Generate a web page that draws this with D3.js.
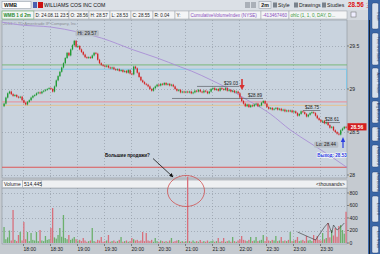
<!DOCTYPE html>
<html>
<head>
<meta charset="utf-8">
<script src="https://cdn.jsdelivr.net/npm/d3@7"></script>
<style>
body { margin: 0; background: #c3c8ce; }
svg { display: block; font-family: "Liberation Sans", Arial, sans-serif; }
</style>
</head>
<body>
<div id="chart"></div>
<script>
// 2-minute bars, WMB, 24.08.11 from 17:38 to 23:58
const closes = [28.83,28.90,28.95,28.97,28.94,28.92,28.93,28.91,28.90,28.91,
 28.87,28.84,28.82,28.85,28.87,28.90,28.92,28.93,28.95,28.96,
 28.95,28.97,28.98,28.99,29.00,29.01,29.00,28.97,29.03,29.10,
 29.15,29.20,29.25,29.30,29.36,29.42,29.39,29.46,29.51,29.56,
 29.49,29.50,29.46,29.43,29.40,29.37,29.36,29.37,29.36,29.39,
 29.42,29.41,29.34,29.30,29.28,29.27,29.26,29.27,29.25,29.24,
 29.25,29.23,29.22,29.23,29.21,29.22,29.20,29.21,29.19,29.22,
 29.18,29.17,29.26,29.24,29.19,29.14,29.10,29.08,29.06,29.05,
 29.03,29.00,28.98,29.01,29.03,29.05,29.04,29.06,29.05,29.07,
 29.05,29.06,29.04,29.05,29.03,29.00,28.98,28.99,28.96,28.97,
 28.96,28.97,28.96,28.97,28.95,28.96,28.98,28.97,28.99,28.97,
 28.96,28.98,28.97,28.95,28.97,29.00,29.01,28.99,29.00,28.98,
 29.01,29.00,28.99,29.01,28.98,28.99,28.97,28.98,28.96,28.97,
 28.95,28.90,28.86,28.83,28.80,28.82,28.79,28.81,28.80,28.82,
 28.83,28.80,28.81,28.84,28.86,28.83,28.79,28.77,28.78,28.76,
 28.77,28.78,28.76,28.77,28.75,28.76,28.74,28.75,28.74,28.75,
 28.73,28.74,28.72,28.69,28.71,28.74,28.73,28.71,28.68,28.70,
 28.72,28.73,28.72,28.69,28.66,28.64,28.62,28.63,28.60,28.61,
 28.58,28.55,28.56,28.52,28.50,28.48,28.47,28.52,28.54,28.56,
 28.55];
const opens = [28.80,28.83,28.90,28.95,28.97,28.94,28.92,28.93,28.91,28.90,
 28.91,28.87,28.84,28.82,28.85,28.87,28.90,28.92,28.93,28.95,
 28.96,28.95,28.97,28.98,28.99,29.00,29.01,29.00,28.97,29.03,
 29.10,29.15,29.20,29.25,29.30,29.36,29.42,29.39,29.46,29.51,
 29.56,29.49,29.50,29.46,29.43,29.40,29.37,29.36,29.37,29.36,
 29.39,29.42,29.41,29.34,29.30,29.28,29.27,29.26,29.27,29.25,
 29.24,29.25,29.23,29.22,29.23,29.21,29.22,29.20,29.21,29.19,
 29.22,29.18,29.17,29.26,29.24,29.19,29.14,29.10,29.08,29.06,
 29.05,29.03,29.00,28.98,29.01,29.03,29.05,29.04,29.06,29.05,
 29.07,29.05,29.06,29.04,29.05,29.03,29.00,28.98,28.99,28.96,
 28.97,28.96,28.97,28.96,28.97,28.95,28.96,28.98,28.97,28.99,
 28.97,28.96,28.98,28.97,28.95,28.97,29.00,29.01,28.99,29.00,
 28.98,29.01,29.00,28.99,29.01,28.98,28.99,28.97,28.98,28.96,
 28.97,28.95,28.90,28.86,28.83,28.80,28.82,28.79,28.81,28.80,
 28.82,28.83,28.80,28.81,28.84,28.86,28.83,28.79,28.77,28.78,
 28.76,28.77,28.78,28.76,28.77,28.75,28.76,28.74,28.75,28.74,
 28.75,28.73,28.74,28.72,28.69,28.71,28.74,28.73,28.71,28.68,
 28.70,28.72,28.73,28.72,28.69,28.66,28.64,28.62,28.63,28.60,
 28.61,28.58,28.55,28.56,28.52,28.50,28.48,28.47,28.52,28.54,
 28.56];
// volume, thousands
const volumes = [256,60,90,200,40,528,50,30,128,176,
 40,336,60,176,30,160,50,40,176,30,
 208,40,30,112,50,60,240,560,90,70,
 128,240,100,448,80,60,128,50,70,96,
 60,40,50,30,80,40,20,30,40,240,
 30,20,50,40,96,20,30,40,128,20,
 30,40,20,30,50,96,20,30,40,20,
 30,80,60,40,50,30,40,176,30,160,
 40,30,50,20,80,30,20,40,30,20,
 30,20,40,80,20,30,40,48,20,30,
 20,30,1060,30,20,40,20,30,20,48,
 20,30,20,40,20,30,40,20,30,80,
 20,30,80,20,30,40,20,96,30,20,
 40,60,112,50,40,30,50,96,30,40,
 96,30,40,50,128,30,96,40,30,50,
 40,112,30,40,96,30,40,30,50,176,
 30,40,50,96,30,40,50,30,112,40,
 50,30,128,60,112,50,40,160,60,80,
 320,90,208,120,240,100,272,288,208,150,
 500];

// CumulativeVolumeIndex (NYSE), millions, sampled at bar indexes
const cviIdx = [-2,9,26,41,54,72,85,98,104,115,126,135,143,148,159,170,182,191];
const cviVals = [-403.73,-403.93,-404.07,-404.40,-404.80,-405.60,-406.13,-406.73,-407.00,
 -407.60,-408.27,-408.93,-409.47,-409.87,-410.93,-411.80,-412.73,-413.47];

// black study line in the volume pane
const studyIdx = [163,173,178,180,182,183,185,187,189];
const studyVals = [176,48,256,320,160,288,208,256,320];

const levelPrices = [29.28, 29.23, 28.85, 28.81, 28.09];
const priceTicks = [28, 28.5, 29, 29.5];
const priceTickLabels = ['28', '28.5', '29', '29.5'];
const volTicks = [0, 200, 400, 600, 800];
const timeTicks = ['18:00','18:30','19:00','19:30','20:00','20:30','21:00','21:30','22:00','22:30','23:00','23:30'];

const W = 380, H = 254;
const plotL = 2, plotR = 347;
const priceTop = 20, priceBot = 178;
const volTop = 188, volBot = 244;

const svg = d3.select('#chart').append('svg')
    .attr('width', W).attr('height', H);

const day = new Date(2011, 7, 24);
const t0 = d3.timeMinute.offset(day, 17 * 60 + 38);
const barTime = i => d3.timeMinute.offset(t0, 2 * i + 1);
const parseT = d3.timeParse('%H:%M');
const tickDate = s => { const p = parseT(s); return new Date(2011, 7, 24, p.getHours(), p.getMinutes()); };

const x = d3.scaleTime()
    .domain([new Date(2011, 7, 24, 17, 35), new Date(2011, 7, 25, 0, 0)])
    .range([0.5, 347]);
const y = d3.scaleLinear().domain([28, 29.5]).range([175, 46]);
const yv = d3.scaleLinear().domain([0, 800]).range([243, 193]);
const yc = d3.scaleLinear().domain([-413.6, -403.6]).range([170, 20]);

// ---------- backgrounds ----------
svg.append('rect').attr('width', W).attr('height', H).attr('fill', '#c5cad0');
svg.append('rect').attr('x', 0).attr('y', 0).attr('width', W).attr('height', 10).attr('fill', '#dbe0e6');
svg.append('rect').attr('x', 0).attr('y', 10).attr('width', 368).attr('height', 10).attr('fill', '#d3d8de');
svg.append('rect').attr('x', plotL).attr('y', priceTop).attr('width', plotR - plotL).attr('height', priceBot - priceTop)
    .attr('fill', '#c9d3de').attr('stroke', '#8d949c').attr('stroke-width', 0.6);
svg.append('rect').attr('x', plotL).attr('y', volTop).attr('width', plotR - plotL).attr('height', volBot - volTop)
    .attr('fill', '#c9d3de').attr('stroke', '#8d949c').attr('stroke-width', 0.6);

// volume header bar
svg.append('rect').attr('x', plotL).attr('y', 180).attr('width', plotR - plotL).attr('height', 8)
    .attr('fill', '#eef0f2').attr('stroke', '#9aa0a8').attr('stroke-width', 0.6);
svg.append('rect').attr('x', plotL + 0.5).attr('y', 180.5).attr('width', 20).attr('height', 7)
    .attr('fill', '#f6f7f8').attr('stroke', '#9aa0a8').attr('stroke-width', 0.5);
svg.append('rect').attr('x', 22.5).attr('y', 180.5).attr('width', 19).attr('height', 7)
    .attr('fill', '#f6f7f8').attr('stroke', '#9aa0a8').attr('stroke-width', 0.5);
svg.append('text').attr('x', 4).attr('y', 186.3).attr('font-size', 5).attr('fill', '#222').text('Volume');
svg.append('text').attr('x', 24).attr('y', 186.3).attr('font-size', 5).attr('fill', '#222').text('514,445');
svg.append('text').attr('x', 345).attr('y', 186.3).attr('font-size', 5).attr('fill', '#222')
    .attr('text-anchor', 'end').text('<thousands>');

// ---------- grid ----------
const grid = svg.append('g').attr('stroke', '#8c949e').attr('stroke-width', 0.6).attr('stroke-dasharray', '1,2');
timeTicks.forEach(s => {
    const xx = Math.round(x(tickDate(s))) + 0.5;
    grid.append('line').attr('x1', xx).attr('x2', xx).attr('y1', priceTop).attr('y2', priceBot);
    grid.append('line').attr('x1', xx).attr('x2', xx).attr('y1', volTop).attr('y2', volBot);
});
priceTicks.forEach(p => {
    grid.append('line').attr('x1', plotL).attr('x2', plotR).attr('y1', Math.round(y(p)) + 0.5).attr('y2', Math.round(y(p)) + 0.5);
});
volTicks.slice(1).forEach(v => {
    grid.append('line').attr('x1', plotL).attr('x2', plotR).attr('y1', Math.round(yv(v)) + 0.5).attr('y2', Math.round(yv(v)) + 0.5);
});

svg.append('text').attr('x', 3).attr('y', 24.5).attr('font-size', 4.2).attr('fill', '#8a8f96')
    .text('2013 \u00a9 TD Ameritrade IP Company, Inc.');

// ---------- level lines ----------
const levelColors = ['#6fb56f', '#7cc6e8', '#e29aa4', '#e8c088', '#e04848'];
const levelWidths = [0.9, 0.9, 1.4, 0.9, 0.9];
levelPrices.forEach((p, i) => {
    svg.append('line').attr('x1', plotL).attr('x2', plotR).attr('y1', y(p)).attr('y2', y(p))
        .attr('stroke', levelColors[i]).attr('stroke-width', levelWidths[i]);
});
svg.append('line').attr('x1', plotR - 0.5).attr('x2', plotR - 0.5).attr('y1', y(29.23)).attr('y2', y(29))
    .attr('stroke', '#7cc6e8').attr('stroke-width', 0.9);

// ---------- price clip ----------
svg.append('clipPath').attr('id', 'pclip').append('rect')
    .attr('x', plotL).attr('y', priceTop).attr('width', plotR - plotL).attr('height', priceBot - priceTop);
const pg = svg.append('g').attr('clip-path', 'url(#pclip)');

// CVI curve
const cviLine = d3.line()
    .x((d, i) => x(barTime(cviIdx[i])))
    .y(d => yc(d))
    .curve(d3.curveMonotoneX);
pg.append('path').datum(cviVals).attr('d', cviLine)
    .attr('fill', 'none').attr('stroke', '#a98fd6').attr('stroke-width', 0.9);

// horizontal price-level marks
const marks = [
    {p: 29.03, x1: 197, x2: 239, label: '$29.03'},
    {p: 28.89, x1: 172, x2: 263, label: '$28.89'},
    {p: 28.75, x1: 303, x2: 320, label: '$28.75'},
    {p: 28.61, x1: 322, x2: 340, label: '$28.61'}
];
marks.forEach(m => {
    pg.append('line').attr('x1', m.x1).attr('x2', m.x2).attr('y1', y(m.p)).attr('y2', y(m.p))
        .attr('stroke', '#5a5f66').attr('stroke-width', 0.7);
    pg.append('text').attr('x', m.x2 - 1).attr('y', y(m.p) - 1.5).attr('font-size', 4.6)
        .attr('text-anchor', 'end').attr('fill', '#222').text(m.label);
});

// candles
const bw = 1.3;
closes.forEach((c, i) => {
    const o = opens[i];
    const cx = x(barTime(i));
    const up = c >= o;
    const col = up ? '#1e9a32' : '#d42424';
    const top = y(Math.max(o, c)), bot = y(Math.min(o, c));
    pg.append('line').attr('x1', cx).attr('x2', cx)
        .attr('y1', top - 0.9).attr('y2', bot + 0.9).attr('stroke', col).attr('stroke-width', 0.5);
    pg.append('rect').attr('x', cx - bw / 2).attr('y', top).attr('width', bw)
        .attr('height', Math.max(0.7, bot - top)).attr('fill', col);
});

// Hi / Lo bubbles
function bubble(g, cx, cy, txt) {
    const t = g.append('text').attr('x', cx).attr('y', cy + 1.7).attr('font-size', 4.8)
        .attr('text-anchor', 'middle').attr('fill', '#222').text(txt);
    const bb = t.node().getBBox();
    g.insert('rect', 'text').attr('x', bb.x - 2).attr('y', bb.y - 0.6).attr('width', bb.width + 4)
        .attr('height', bb.height + 1.2).attr('rx', 1.5).attr('fill', '#b7bec7');
}
const hiG = pg.append('g'); bubble(hiG, 87, 33, 'Hi: 29.57');
const loG = pg.append('g'); bubble(loG, 326, 144.5, 'Lo: 28.44');

// red arrow down
pg.append('line').attr('x1', 242).attr('x2', 242).attr('y1', 79).attr('y2', 86)
    .attr('stroke', '#d83030').attr('stroke-width', 1.6);
pg.append('path').attr('d', 'M239.3,85 L244.7,85 L242,90 Z').attr('fill', '#d83030');
// blue arrow up
pg.append('line').attr('x1', 343).attr('x2', 343).attr('y1', 148).attr('y2', 141)
    .attr('stroke', '#2a3ee0').attr('stroke-width', 1.2);
pg.append('path').attr('d', 'M340.8,142 L345.2,142 L343,137 Z').attr('fill', '#2a3ee0');
pg.append('text').attr('x', 332).attr('y', 156.5).attr('font-size', 4.6).attr('font-weight', 'bold')
    .attr('text-anchor', 'middle').attr('fill', '#2233dd')
    .attr('stroke', '#ffffff').attr('stroke-width', 1.2).attr('paint-order', 'stroke')
    .text('Выход: 28.53');

// annotation
svg.append('defs').append('marker').attr('id', 'ah').attr('viewBox', '0 0 10 10')
    .attr('refX', 9).attr('refY', 5).attr('markerWidth', 5).attr('markerHeight', 5).attr('orient', 'auto')
    .append('path').attr('d', 'M0,0 L10,5 L0,10 Z').attr('fill', '#111');
svg.append('text').attr('x', 105).attr('y', 156.8).attr('font-size', 4.6).attr('font-weight', 'bold')
    .attr('fill', '#111').attr('stroke', '#c9d3de').attr('stroke-width', 0.8).attr('paint-order', 'stroke')
    .text('Большие продажи?');
svg.append('line').attr('x1', 153).attr('y1', 158.5).attr('x2', 173).attr('y2', 177)
    .attr('stroke', '#111').attr('stroke-width', 0.8).attr('marker-end', 'url(#ah)');

// ---------- volume ----------
svg.append('clipPath').attr('id', 'vclip').append('rect')
    .attr('x', plotL).attr('y', 170).attr('width', plotR - plotL).attr('height', volBot - 170);
const vg = svg.append('g').attr('clip-path', 'url(#vclip)');
volumes.forEach((v, i) => {
    const up = closes[i] >= opens[i];
    vg.append('rect').attr('x', x(barTime(i)) - 0.7).attr('y', yv(v)).attr('width', 1.3)
        .attr('height', yv(0) - yv(v)).attr('fill', up ? '#6cb06c' : '#d8707c');
});
const studyLine = d3.line().x((d, i) => x(barTime(studyIdx[i]))).y(d => yv(d));
vg.append('path').datum(studyVals).attr('d', studyLine).attr('fill', 'none')
    .attr('stroke', '#333').attr('stroke-width', 0.6);

// red ellipse
svg.append('ellipse').attr('cx', 186).attr('cy', 191).attr('rx', 18.5).attr('ry', 15.5)
    .attr('fill', 'none').attr('stroke', '#d05050').attr('stroke-width', 0.8);

// ---------- axes ----------
const axisFont = 5;
const pAxis = svg.append('g');
priceTicks.forEach((p, i) => {
    pAxis.append('line').attr('x1', plotR).attr('x2', plotR + 2).attr('y1', y(p)).attr('y2', y(p)).attr('stroke', '#333').attr('stroke-width', 0.5);
    pAxis.append('text').attr('x', plotR + 2.5).attr('y', y(p) + 1.8).attr('font-size', axisFont).attr('fill', '#222').text(priceTickLabels[i]);
});
// last price tag
const last = 28.56;
pAxis.append('rect').attr('x', plotR + 0.5).attr('y', y(last) - 3.6).attr('width', 19).attr('height', 7.2).attr('fill', '#d41e1e');
pAxis.append('text').attr('x', plotR + 10).attr('y', y(last) + 1.9).attr('font-size', 5).attr('font-weight', 'bold')
    .attr('text-anchor', 'middle').attr('fill', '#fff').text('28.56');

volTicks.forEach(v => {
    pAxis.append('line').attr('x1', plotR).attr('x2', plotR + 2).attr('y1', yv(v)).attr('y2', yv(v)).attr('stroke', '#333').attr('stroke-width', 0.5);
    pAxis.append('text').attr('x', plotR + 2.5).attr('y', yv(v) + 1.8).attr('font-size', axisFont).attr('fill', '#222').text(v);
});
timeTicks.forEach(s => {
    const xx = Math.round(x(tickDate(s))) + 0.5;
    pAxis.append('line').attr('x1', xx).attr('x2', xx).attr('y1', volBot).attr('y2', volBot + 2).attr('stroke', '#333').attr('stroke-width', 0.5);
    pAxis.append('text').attr('x', xx).attr('y', 250.5).attr('font-size', axisFont).attr('fill', '#222').text(s);
});

// ---------- top toolbar ----------
const tb = svg.append('g').attr('font-size', 5.2);
tb.append('rect').attr('x', 2).attr('y', 1.5).attr('width', 29).attr('height', 7).attr('fill', '#fff').attr('stroke', '#8a94a0').attr('stroke-width', 0.5);
tb.append('text').attr('x', 4).attr('y', 7).attr('font-weight', 'bold').attr('fill', '#111').text('WMB');
tb.append('rect').attr('x', 33).attr('y', 2).attr('width', 4).attr('height', 6).attr('fill', '#4a5fb0');
tb.append('rect').attr('x', 38).attr('y', 2).attr('width', 5).attr('height', 6).attr('fill', '#cc1111');
tb.append('text').attr('x', 44).attr('y', 7).attr('fill', '#111').text('WILLIAMS COS INC COM');
tb.append('rect').attr('x', 245).attr('y', 2).attr('width', 5).attr('height', 6).attr('fill', '#aab0b8');
tb.append('rect').attr('x', 251).attr('y', 2).attr('width', 5).attr('height', 6).attr('fill', '#aab0b8');
tb.append('rect').attr('x', 259).attr('y', 1.5).attr('width', 12).attr('height', 7).attr('fill', '#eef0f2').attr('stroke', '#8a94a0').attr('stroke-width', 0.5);
tb.append('text').attr('x', 265).attr('y', 7).attr('text-anchor', 'middle').attr('font-weight', 'bold').attr('fill', '#111').text('2m');
[['Style', 273], ['Drawings', 294], ['Studies', 322]].forEach(d => {
    tb.append('rect').attr('x', d[1]).attr('y', 2.5).attr('width', 4).attr('height', 5).attr('fill', '#7a828c');
    tb.append('text').attr('x', d[1] + 5).attr('y', 7).attr('fill', '#222').text(d[0]);
});
tb.append('text').attr('x', 348).attr('y', 7.3).attr('font-size', 6.3).attr('font-weight', 'bold').attr('fill', '#d11').text('28.56');
tb.append('text').attr('x', 366).attr('y', 4).attr('font-size', 3.3).attr('fill', '#d11').text('-.62');
tb.append('text').attr('x', 366).attr('y', 8).attr('font-size', 3.3).attr('fill', '#d11').text('-2.12%');

// second row: bar info
const info = svg.append('g').attr('font-size', 4.6);
const cells = [
    {x: 2, w: 32, t: 'WMB 1 d 2m', c: '#1f8a2a', b: true},
    {x: 34, w: 35, t: 'D: 24.08.11 23:58', c: '#222'},
    {x: 69, w: 20, t: 'O: 28.56', c: '#222'},
    {x: 89, w: 21, t: 'H: 28.57', c: '#222'},
    {x: 110, w: 21, t: 'L: 28.53', c: '#222'},
    {x: 131, w: 22, t: 'C: 28.55', c: '#222'},
    {x: 153, w: 22, t: 'R: 0.04', c: '#222'},
    {x: 175, w: 14, t: 'Y:', c: '#222'},
    {x: 189, w: 72, t: 'CumulativeVolumeIndex (NYSE)', c: '#8a4fc0'},
    {x: 261, w: 28, t: '-413467460', c: '#8a4fc0'},
    {x: 289, w: 58, t: 'ohlc (1, 1, 0, DAY, D...', c: '#3a9a3a'}
];
cells.forEach(d => {
    info.append('rect').attr('x', d.x).attr('y', 11).attr('width', d.w).attr('height', 8)
        .attr('fill', '#f4f5f6').attr('stroke', d.b ? '#4aa04a' : '#9aa0a8').attr('stroke-width', 0.5);
    info.append('text').attr('x', d.x + 1.5).attr('y', 16.8).attr('fill', d.c)
        .attr('font-weight', d.b ? 'bold' : 'normal').text(d.t);
});
info.append('rect').attr('x', 351).attr('y', 12).attr('width', 5).attr('height', 5).attr('fill', '#eef').attr('stroke', '#666').attr('stroke-width', 0.5);

// ---------- right sidebar ----------
svg.append('rect').attr('x', 368).attr('y', 0).attr('width', 12).attr('height', H).attr('fill', '#3a66a6');
svg.append('line').attr('x1', 369.5).attr('x2', 369.5).attr('y1', 20).attr('y2', H).attr('stroke', '#1a2230').attr('stroke-width', 1);
const tabs = [
    {y: 3, h: 26, t: 'Trade'},
    {y: 33, h: 32, t: 'Time and Sales'},
    {y: 68, h: 30, t: 'Active Trader'},
    {y: 101, h: 22, t: 'Big Buttons'},
    {y: 127, h: 14, t: 'Level II'},
    {y: 145, h: 22, t: 'Dashboard'},
    {y: 172, h: 20, t: 'Dashboard'},
    {y: 196, h: 26, t: 'Level II'},
    {y: 226, h: 27, t: 'Live News'}
];
tabs.forEach(d => {
    svg.append('rect').attr('x', 372).attr('y', d.y).attr('width', 6.5).attr('height', d.h).attr('rx', 1.5)
        .attr('fill', '#d7e0ec').attr('stroke', '#1e3a6a').attr('stroke-width', 0.4);
    svg.append('text').attr('transform', `translate(376.9,${d.y + d.h / 2}) rotate(90)`)
        .attr('font-size', 3.6).attr('text-anchor', 'middle').attr('fill', '#233a66').text(d.t);
});
</script>
</body>
</html>
